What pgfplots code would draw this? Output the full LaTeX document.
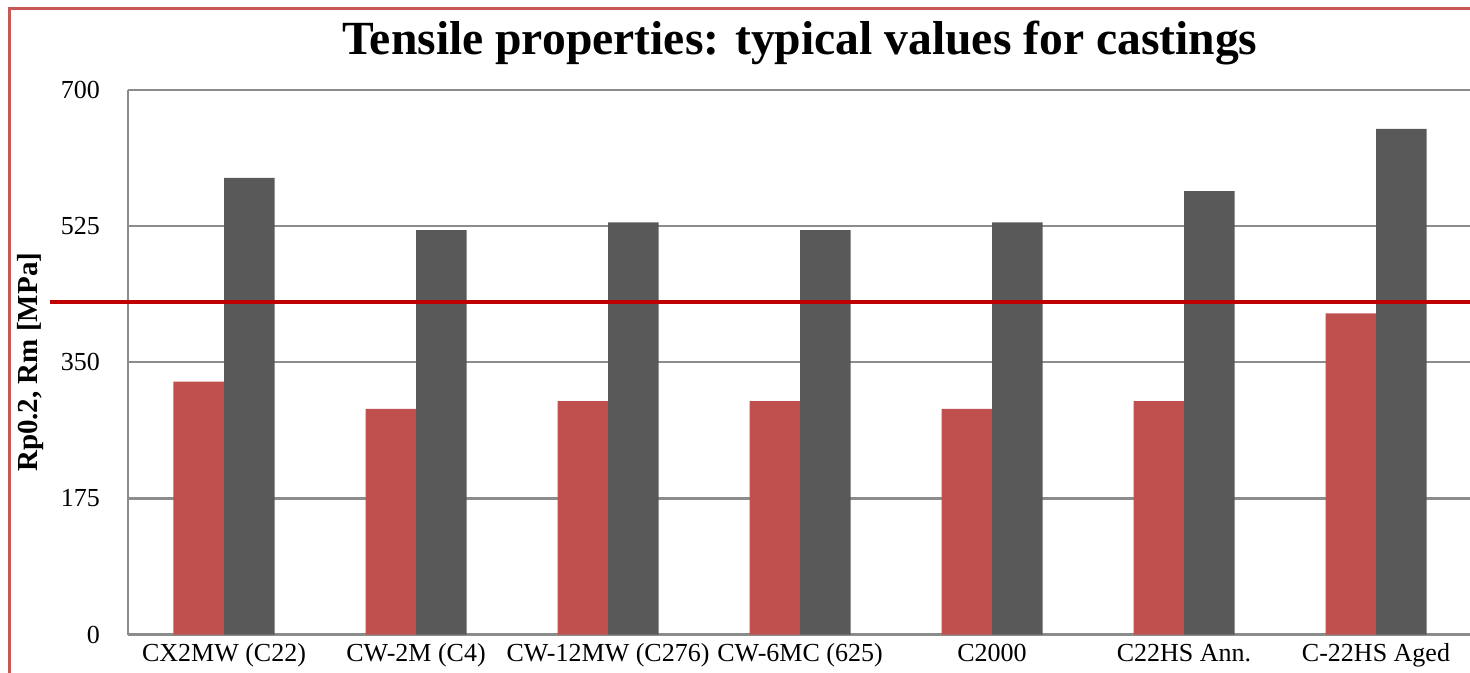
\documentclass[border=0pt]{standalone}
\usepackage{fontspec}
\setmainfont{Liberation Serif}
\usepackage{pgfplots}
\pgfplotsset{compat=1.18}

\definecolor{yieldred}{RGB}{192,80,77}
\definecolor{tensgray}{RGB}{89,89,89}
\definecolor{limitred}{RGB}{192,0,0}
\definecolor{gridgray}{RGB}{140,140,140}
\definecolor{framered}{RGB}{198,88,85}

\begin{document}
\begin{tikzpicture}
\useasboundingbox (-64pt,-19.2pt) rectangle (671pt,317.3pt);
\begin{axis}[
  at={(0,0)}, anchor=south west,
  scale only axis,
  width=672pt, height=272.3pt,
  ybar=0pt, bar width=25.25pt,
  xmin=-0.5, xmax=6.5,
  ymin=0, ymax=700,
  xtick={0,...,6},
  xticklabels={CX2MW (C22),CW-2M (C4),CW-12MW (C276),CW-6MC (625),C2000,C22HS Ann.,C-22HS Aged},
  ytick={0,175,350,525,700},
  major tick length=0pt,
  axis x line*=bottom, axis y line*=left,
  axis line style={gridgray, line width=1.2pt, -},
  ymajorgrids,
  major grid style={gridgray, line width=1.2pt},
  /pgf/number format/assume math mode=true,
  tick label style={font=\fontsize{13}{15}\selectfont},
  yticklabel style={anchor=east, xshift=-10.5pt},
  xticklabel style={anchor=base, yshift=-13.7pt},
  title={Tensile properties: typical values for castings},
  title style={at={(axis description cs:0.5,1.044)}, anchor=base,
    font=\fontsize{23.8}{28}\selectfont\bfseries},
  ylabel={Rp0.2, Rm [MPa]},
  ylabel style={at={(axis description cs:-0.067,0.5)}, anchor=base,
    font=\fontsize{14.5}{17}\selectfont\bfseries},
  clip=false,
]
% Rp0.2 yield strength
\addplot[draw=none, fill=yieldred] coordinates {
  (0,325) (1,290) (2,300) (3,300) (4,290) (5,300) (6,413)};
% Rm tensile strength
\addplot[draw=none, fill=tensgray] coordinates {
  (0,587) (1,520) (2,530) (3,520) (4,530) (5,570) (6,650)};
% reference level
\addplot[sharp plot, limitred, line width=2pt, forget plot, bar shift=0pt]
  coordinates {(-0.906,427) (6.6,427)};
\end{axis}
% outer frame
\draw[framered, line width=1.5pt] (-59pt,-30pt) -- (-59pt,312.8pt) -- (690pt,312.8pt);
\end{tikzpicture}
\end{document}
